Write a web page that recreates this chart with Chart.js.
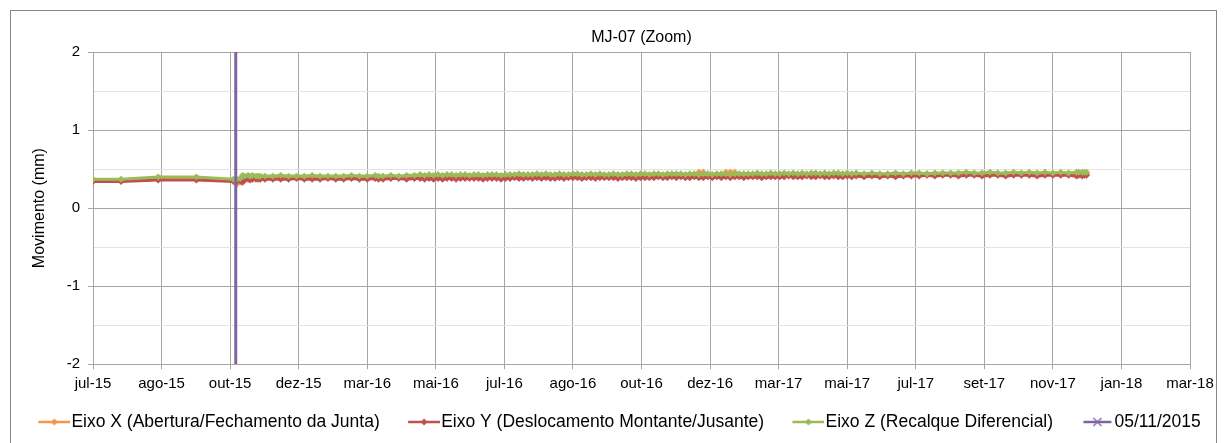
<!DOCTYPE html>
<html>
<head>
<meta charset="utf-8">
<title>MJ-07 (Zoom)</title>
<script src="https://cdn.jsdelivr.net/npm/chart.js@4.4.1/dist/chart.umd.min.js"></script>
<style>
  html, body { margin: 0; padding: 0; background: #fff; }
  canvas { display: block; }
</style>
</head>
<body>
<canvas id="grafico" width="1227" height="443"></canvas>
<script>
// Datas das leituras do medidor de junta MJ-07
const datas = [
  '2015-07-01','2015-07-26','2015-08-28','2015-10-01','2015-11-03',
  '2015-11-06','2015-11-09','2015-11-11','2015-11-13','2015-11-16','2015-11-18','2015-11-20','2015-11-23','2015-11-25','2015-11-27',
  '2015-12-01','2015-12-08','2015-12-15','2015-12-22','2015-12-29',
  '2016-01-05','2016-01-12','2016-01-19','2016-01-26',
  '2016-02-02','2016-02-09','2016-02-16','2016-02-23',
  '2016-03-01','2016-03-08','2016-03-11','2016-03-15','2016-03-22','2016-03-29',
  '2016-04-05','2016-04-12','2016-04-17',
  '2016-04-21','2016-04-25','2016-04-29',
  '2016-05-03','2016-05-07','2016-05-11','2016-05-15','2016-05-19','2016-05-23','2016-05-27','2016-05-31',
  '2016-06-04','2016-06-08','2016-06-12','2016-06-16','2016-06-20','2016-06-24','2016-06-28',
  '2016-07-02','2016-07-06','2016-07-10','2016-07-14','2016-07-18','2016-07-22','2016-07-26','2016-07-30',
  '2016-08-03','2016-08-07','2016-08-11','2016-08-15','2016-08-19','2016-08-23','2016-08-27','2016-08-31',
  '2016-09-04','2016-09-08','2016-09-12','2016-09-16','2016-09-20','2016-09-24','2016-09-28',
  '2016-10-02','2016-10-06','2016-10-10','2016-10-14','2016-10-18','2016-10-22','2016-10-26','2016-10-30',
  '2016-11-03','2016-11-07','2016-11-11','2016-11-15','2016-11-19','2016-11-23','2016-11-27',
  '2016-12-01','2016-12-05','2016-12-09','2016-12-13','2016-12-17','2016-12-21','2016-12-25','2016-12-29',
  '2017-01-02','2017-01-06','2017-01-10','2017-01-14','2017-01-18','2017-01-22','2017-01-26','2017-01-30',
  '2017-02-03','2017-02-07','2017-02-11','2017-02-15','2017-02-19','2017-02-23','2017-02-27',
  '2017-03-03','2017-03-07','2017-03-11','2017-03-15','2017-03-19','2017-03-23','2017-03-27','2017-03-31',
  '2017-04-04','2017-04-08','2017-04-12','2017-04-16','2017-04-20','2017-04-24','2017-04-28',
  '2017-05-02','2017-05-06','2017-05-10',
  '2017-05-17','2017-05-24','2017-05-31',
  '2017-06-07','2017-06-14','2017-06-21','2017-06-28',
  '2017-07-05','2017-07-12','2017-07-19','2017-07-26',
  '2017-08-02','2017-08-09','2017-08-16','2017-08-23','2017-08-30',
  '2017-09-06','2017-09-13','2017-09-20','2017-09-27',
  '2017-10-04','2017-10-11','2017-10-18','2017-10-25',
  '2017-11-01','2017-11-08','2017-11-15','2017-11-22',
  '2017-11-24','2017-11-27','2017-11-29','2017-12-01'
];

// Eixo X - abertura/fechamento da junta (mm)
const eixoX = [
  0.35,0.35,0.37,0.37,0.35,
  0.31,0.33,0.36,0.38,0.38,0.38,0.39,0.38,0.39,0.39,
  0.39,0.39,0.39,0.39,0.39,
  0.39,0.40,0.39,0.39,
  0.39,0.39,0.40,0.39,
  0.39,0.40,0.39,0.39,0.40,0.39,
  0.40,0.40,0.40,
  0.40,0.40,0.40,
  0.40,0.40,0.41,0.40,0.40,0.41,0.40,0.40,
  0.41,0.40,0.40,0.41,0.40,0.41,0.40,
  0.41,0.41,0.41,0.41,0.41,0.41,0.41,0.42,
  0.41,0.41,0.41,0.41,0.42,0.41,0.41,0.42,
  0.42,0.41,0.41,0.42,0.41,0.42,0.41,
  0.41,0.42,0.41,0.42,0.42,0.42,0.41,0.42,
  0.42,0.42,0.42,0.42,0.42,0.42,0.43,
  0.42,0.42,0.42,0.43,0.42,0.46,0.46,0.43,
  0.42,0.43,0.42,0.46,0.46,0.46,0.43,0.42,
  0.43,0.42,0.43,0.43,0.42,0.43,0.43,
  0.43,0.43,0.43,0.43,0.43,0.43,0.43,0.43,
  0.43,0.43,0.43,0.43,0.43,0.43,0.43,
  0.43,0.43,0.43,
  0.43,0.43,0.43,
  0.43,0.43,0.43,0.43,
  0.44,0.44,0.44,0.44,
  0.44,0.44,0.44,0.44,0.44,
  0.44,0.44,0.44,0.44,
  0.44,0.44,0.44,0.44,
  0.44,0.44,0.44,0.44,
  0.44,0.44,0.44,0.44
];

// Eixo Y - deslocamento montante/jusante (mm)
const eixoY = [
  0.34,0.34,0.36,0.36,0.34,
  0.34,0.35,0.33,0.36,0.37,0.36,0.37,0.37,0.37,0.37,
  0.37,0.37,0.37,0.37,0.38,
  0.37,0.37,0.37,0.38,
  0.37,0.37,0.38,0.37,
  0.37,0.38,0.37,0.37,0.38,0.38,
  0.37,0.38,0.38,
  0.37,0.38,0.37,
  0.38,0.37,0.38,0.38,0.37,0.38,0.38,0.38,
  0.38,0.38,0.37,0.38,0.38,0.38,0.37,
  0.38,0.38,0.39,0.38,0.38,0.39,0.38,0.39,
  0.38,0.39,0.38,0.38,0.39,0.38,0.39,0.39,
  0.39,0.38,0.39,0.39,0.38,0.39,0.39,
  0.39,0.39,0.38,0.39,0.39,0.39,0.38,0.39,
  0.39,0.39,0.39,0.40,0.39,0.39,0.40,
  0.39,0.40,0.39,0.39,0.40,0.39,0.39,0.40,
  0.39,0.40,0.39,0.40,0.39,0.40,0.40,0.39,
  0.40,0.40,0.40,0.39,0.40,0.40,0.40,
  0.40,0.40,0.41,0.40,0.40,0.40,0.41,0.40,
  0.40,0.41,0.40,0.40,0.41,0.40,0.40,
  0.41,0.40,0.41,
  0.40,0.41,0.40,
  0.41,0.40,0.41,0.41,
  0.41,0.42,0.41,0.42,
  0.42,0.41,0.42,0.42,0.41,
  0.42,0.42,0.41,0.42,
  0.42,0.42,0.41,0.42,
  0.42,0.42,0.42,0.41,
  0.42,0.41,0.42,0.42
];

// Eixo Z - recalque diferencial (mm)
const eixoZ = [
  0.37,0.37,0.40,0.40,0.37,
  0.37,0.38,0.42,0.41,0.42,0.41,0.42,0.41,0.41,0.41,
  0.41,0.41,0.42,0.41,0.41,
  0.41,0.42,0.41,0.41,
  0.41,0.41,0.42,0.41,
  0.41,0.42,0.41,0.41,0.42,0.41,
  0.42,0.42,0.43,
  0.42,0.43,0.42,
  0.43,0.42,0.43,0.43,0.42,0.43,0.43,0.42,
  0.43,0.43,0.42,0.43,0.43,0.43,0.42,
  0.43,0.43,0.43,0.44,0.43,0.43,0.43,0.44,
  0.43,0.44,0.43,0.43,0.44,0.43,0.43,0.44,
  0.44,0.43,0.43,0.44,0.43,0.44,0.43,
  0.43,0.44,0.43,0.43,0.44,0.44,0.43,0.44,
  0.44,0.43,0.44,0.44,0.43,0.44,0.44,
  0.44,0.44,0.43,0.44,0.44,0.43,0.44,0.44,
  0.43,0.44,0.44,0.44,0.43,0.44,0.44,0.44,
  0.44,0.44,0.45,0.44,0.44,0.45,0.44,
  0.44,0.45,0.44,0.45,0.44,0.45,0.44,0.45,
  0.45,0.44,0.45,0.44,0.45,0.45,0.44,
  0.45,0.44,0.45,
  0.44,0.45,0.44,
  0.44,0.45,0.44,0.45,
  0.45,0.44,0.45,0.45,
  0.45,0.45,0.46,0.45,0.45,
  0.46,0.45,0.45,0.46,
  0.45,0.46,0.45,0.46,
  0.45,0.46,0.45,0.46,
  0.46,0.46,0.46,0.46
];

// Data de referência marcada por uma linha vertical
const dataReferencia = '2015-11-05';

// Eixo de datas: início, passo entre marcas (dias) e fim
const inicioEixo = '2015-07-01';
const passoDias = 61;
const totalDias = 976;
const meses = ['jan','fev','mar','abr','mai','jun','jul','ago','set','out','nov','dez'];

const DIA = 86400000;
const origem = Date.parse(inicioEixo);
const diasDesde = s => (Date.parse(s) - origem) / DIA;
const rotuloData = v => {
  const d = new Date(origem + v * DIA);
  return meses[d.getUTCMonth()] + '-' + String(d.getUTCFullYear()).slice(2);
};

const serie = vals => vals.map((v, i) => ({ x: diasDesde(datas[i]), y: v }));

const cores = { x: '#F79646', y: '#C0504D', z: '#9BBB59', ref: '#8064A2' };
const familia = "'Liberation Sans', Arial, sans-serif";
const fonteEixo = { family: familia, size: 15 };
const fonteTitulo = { family: familia, size: 16, weight: 'normal' };
const fonteLegenda = { family: familia, size: 17.5 };

// Símbolos da legenda: linha com marcador, encostados à direita do quadro
function simbolo(cor, cruz) {
  const c = document.createElement('canvas');
  c.width = 63; c.height = 14;
  const g = c.getContext('2d');
  g.strokeStyle = cor; g.lineWidth = 2.5;
  g.beginPath(); g.moveTo(cruz ? 33 : 31, 7); g.lineTo(cruz ? 61 : 63, 7); g.stroke();
  if (cruz) {
    g.lineWidth = 1.3;
    g.beginPath();
    g.moveTo(43, 3); g.lineTo(51, 11);
    g.moveTo(51, 3); g.lineTo(43, 11);
    g.stroke();
  } else {
    g.fillStyle = cor;
    g.beginPath();
    g.moveTo(47, 3.5); g.lineTo(50.5, 7); g.lineTo(47, 10.5); g.lineTo(43.5, 7);
    g.closePath(); g.fill();
  }
  return c;
}
const simbolos = [simbolo(cores.x), simbolo(cores.y), simbolo(cores.z), simbolo(cores.ref, true)];

const estiloSerie = cor => ({
  borderColor: cor,
  backgroundColor: cor,
  borderWidth: 3,
  pointStyle: 'rectRot',
  pointRadius: 3.2,
  pointBorderWidth: 0.5,
  pointBorderColor: cor,
  pointBackgroundColor: cor,
  tension: 0
});

// Moldura externa do gráfico
const moldura = {
  id: 'moldura',
  afterDraw(chart) {
    const g = chart.ctx;
    g.save();
    g.strokeStyle = '#888888';
    g.lineWidth = 1;
    g.strokeRect(10.5, 10.5, 1206, 445);
    g.restore();
  }
};

new Chart(document.getElementById('grafico'), {
  type: 'line',
  data: {
    datasets: [
      Object.assign({ label: 'Eixo X (Abertura/Fechamento da Junta)', data: serie(eixoX), order: 3 }, estiloSerie(cores.x)),
      Object.assign({ label: 'Eixo Y (Deslocamento Montante/Jusante)', data: serie(eixoY), order: 2 }, estiloSerie(cores.y)),
      Object.assign({ label: 'Eixo Z (Recalque Diferencial)', data: serie(eixoZ), order: 1 }, estiloSerie(cores.z)),
      {
        label: '05/11/2015',
        data: [{ x: diasDesde(dataReferencia), y: -2 }, { x: diasDesde(dataReferencia), y: 2 }],
        borderColor: cores.ref,
        backgroundColor: cores.ref,
        borderWidth: 3,
        pointRadius: 0,
        order: 0
      }
    ]
  },
  options: {
    responsive: false,
    animation: false,
    events: [],
    layout: { padding: { left: 10, right: 10, top: 10, bottom: 2.25 } },
    plugins: {
      tooltip: { enabled: false },
      title: {
        display: true,
        text: 'MJ-07 (Zoom)',
        color: '#000',
        font: fonteTitulo,
        padding: { top: 18.4, bottom: 4.4 },
        fullSize: false
      },
      legend: {
        position: 'bottom',
        align: 'start',
        labels: {
          color: '#000',
          font: fonteLegenda,
          usePointStyle: true,
          pointStyleWidth: 47.65,
          padding: 5,
          sort: (a, b) => a.datasetIndex - b.datasetIndex,
          generateLabels(chart) {
            const itens = Chart.defaults.plugins.legend.labels.generateLabels(chart);
            itens.forEach(it => { it.pointStyle = simbolos[it.datasetIndex]; });
            return itens;
          }
        }
      }
    },
    scales: {
      x: {
        type: 'linear',
        min: 0,
        max: totalDias,
        afterFit: s => { s.height = 44; s.paddingRight = 37; },
        ticks: {
          stepSize: passoDias,
          autoSkip: false,
          maxRotation: 0,
          color: '#000',
          font: fonteEixo,
          padding: 6,
          callback: v => rotuloData(v)
        },
        grid: { color: '#a6a6a6', tickColor: '#a6a6a6', tickLength: 5 },
        border: { color: '#a6a6a6' }
      },
      y: {
        min: -2,
        max: 2,
        afterFit: s => { s.width = 83; },
        title: {
          display: true,
          text: 'Movimento (mm)',
          color: '#000',
          font: fonteTitulo,
          padding: { top: 20.4, bottom: 0 }
        },
        ticks: {
          stepSize: 0.5,
          color: '#000',
          font: fonteEixo,
          padding: 8,
          callback: v => Number.isInteger(v) ? String(v) : ''
        },
        grid: {
          color: c => Number.isInteger(c.tick.value) ? '#a6a6a6' : '#e3e3e3',
          tickColor: c => Number.isInteger(c.tick.value) ? '#a6a6a6' : 'rgba(0,0,0,0)',
          tickLength: 5
        },
        border: { color: '#a6a6a6' }
      }
    }
  },
  plugins: [moldura]
});
</script>
</body>
</html>
